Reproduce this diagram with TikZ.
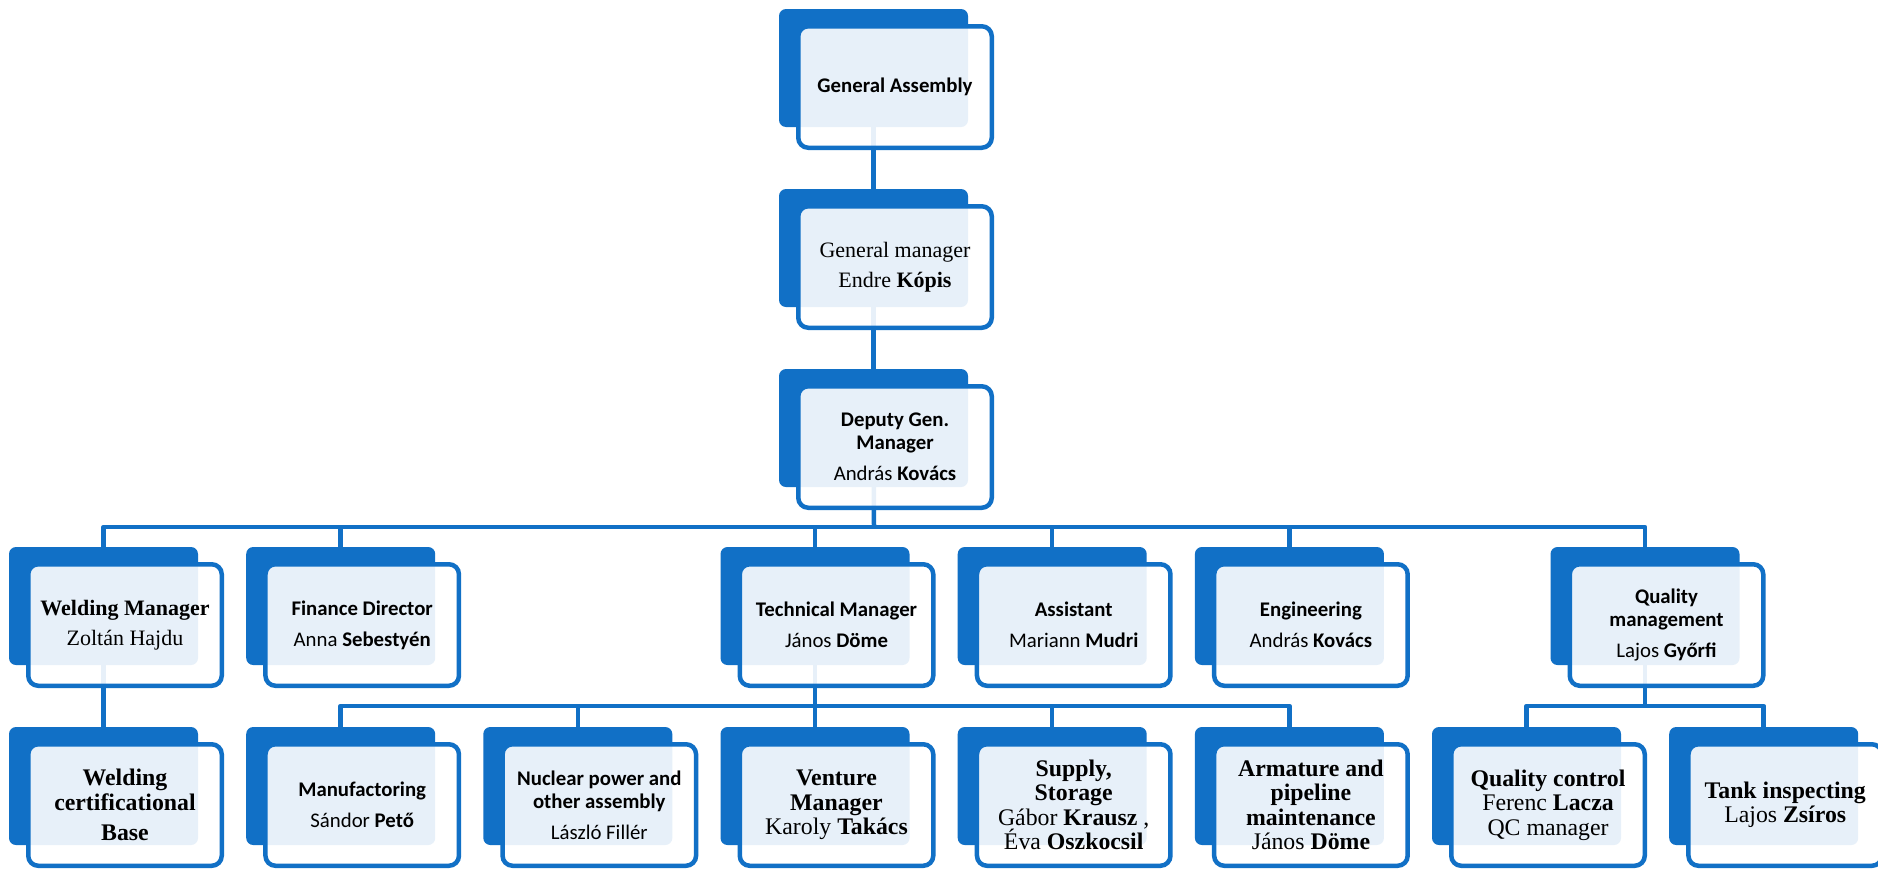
\documentclass[tikz,border=0pt]{standalone}
\usepackage{fontspec}
\setmainfont{Liberation Serif}
\newfontfamily\carlito{Carlito}
\usepackage{tikz}
\usetikzlibrary{positioning}
\definecolor{orgblue}{HTML}{1170C6}
\pgfdeclarelayer{bg}
\pgfsetlayers{bg,main}

\tikzset{
  backbox/.style={fill=orgblue, rounded corners=3.5pt, minimum width=94.5pt, minimum height=59pt, inner sep=0pt},
  frontbox/.style={draw=orgblue, line width=2.25pt, fill=white, fill opacity=0.9, text opacity=1,
    rounded corners=5pt, minimum width=96.75pt, minimum height=60.75pt, inner sep=0pt, align=center},
  sans/.style={font=\carlito\fontsize{10.4}{11.5}\selectfont},
  serif/.style={font=\fontsize{11}{12}\selectfont},
  bigserif/.style={font=\fontsize{11.9}{12.2}\selectfont},
  link/.style={draw=orgblue, line width=2.25pt, line join=round}
}

% one unit: dark card behind, light card with the text in front
\newcommand{\unitbox}[5]{%
  \node[backbox] (#1) at (#2,#3) {};
  \node[frontbox,#4] (#1-t) at ([shift={(21.5,19)}]#1.center) {#5};
}

\begin{document}
\begin{tikzpicture}[x=0.5pt,y=-0.5pt]
\useasboundingbox (0,0) rectangle (1878,868);

% Top column
\unitbox{ga}{873.5}{68}{sans}{\textbf{General Assembly}}
\unitbox{gm}{873.5}{248}{serif}{General manager\\[3pt] Endre \textbf{Kópis}}
\unitbox{dgm}{873.5}{428}{sans}{\textbf{Deputy Gen.}\\\textbf{Manager}\\[4pt] András \textbf{Kovács}}

% Middle row
\unitbox{weld}{103.5}{606}{serif}{\textbf{Welding Manager}\\[3pt] Zoltán Hajdu}
\unitbox{fin}{340.7}{606}{sans}{\textbf{Finance Director}\\[4pt] Anna \textbf{Sebestyén}}
\unitbox{tech}{815}{606}{sans}{\textbf{Technical Manager}\\[4pt] János \textbf{Döme}}
\unitbox{asst}{1052.2}{606}{sans}{\textbf{Assistant}\\[4pt] Mariann \textbf{Mudri}}
\unitbox{eng}{1289.4}{606}{sans}{\textbf{Engineering}\\[4pt] András \textbf{Kovács}}
\unitbox{qm}{1645}{606}{sans}{\textbf{Quality}\\\textbf{management}\\[4pt] Lajos \textbf{Győrfi}}

% Bottom row
\unitbox{wcert}{103.5}{786}{bigserif}{\textbf{Welding}\\\textbf{certificational}\\[3pt] \textbf{Base}}
\unitbox{manu}{340.7}{786}{sans}{\textbf{Manufactoring}\\[4pt] Sándor \textbf{Pető}}
\unitbox{nuc}{577.8}{786}{sans}{\textbf{Nuclear power and}\\\textbf{other assembly}\\[4pt] László Fillér}
\unitbox{vent}{815}{786}{bigserif}{\textbf{Venture}\\\textbf{Manager}\\ Karoly \textbf{Takács}}
\unitbox{sup}{1052.2}{786}{bigserif}{\textbf{Supply,}\\\textbf{Storage}\\ Gábor \textbf{Krausz} ,\\ Éva \textbf{Oszkocsil}}
\unitbox{arm}{1289.4}{786}{bigserif}{\textbf{Armature and}\\\textbf{pipeline}\\\textbf{maintenance}\\ János \textbf{Döme}}
\unitbox{qc}{1526.5}{786}{bigserif}{\textbf{Quality control}\\ Ferenc \textbf{Lacza}\\ QC manager}
\unitbox{tank}{1763.7}{786}{bigserif}{\textbf{Tank inspecting}\\ Lajos \textbf{Zsíros}}

\coordinate (bus3) at (874,527);
\coordinate (bus4) at (815,706);

% Connectors, behind the cards
\begin{pgfonlayer}{bg}
\fill[white] (0,0) rectangle (1878,868);
\draw[link] (ga.center) -- (gm.center);
\draw[link] (gm.center) -- (dgm.center);
\draw[link] (dgm.center) -- (bus3);
\draw[link] (weld.center) -- (weld.center |- bus3) -- (qm.center |- bus3) -- (qm.center);
\foreach \n in {fin,tech,asst,eng}
  \draw[link] (\n.center) -- (\n.center |- bus3);
\draw[link] (weld.center) -- (wcert.center);
\draw[link] (tech.center) -- (bus4);
\draw[link] (manu.center) -- (manu.center |- bus4) -- (arm.center |- bus4) -- (arm.center);
\foreach \n in {nuc,vent,sup}
  \draw[link] (\n.center) -- (\n.center |- bus4);
\draw[link] (qm.center) -- (qm.center |- bus4);
\draw[link] (qc.center) -- (qc.center |- bus4) -- (tank.center |- bus4) -- (tank.center);
\end{pgfonlayer}
\end{tikzpicture}
\end{document}
